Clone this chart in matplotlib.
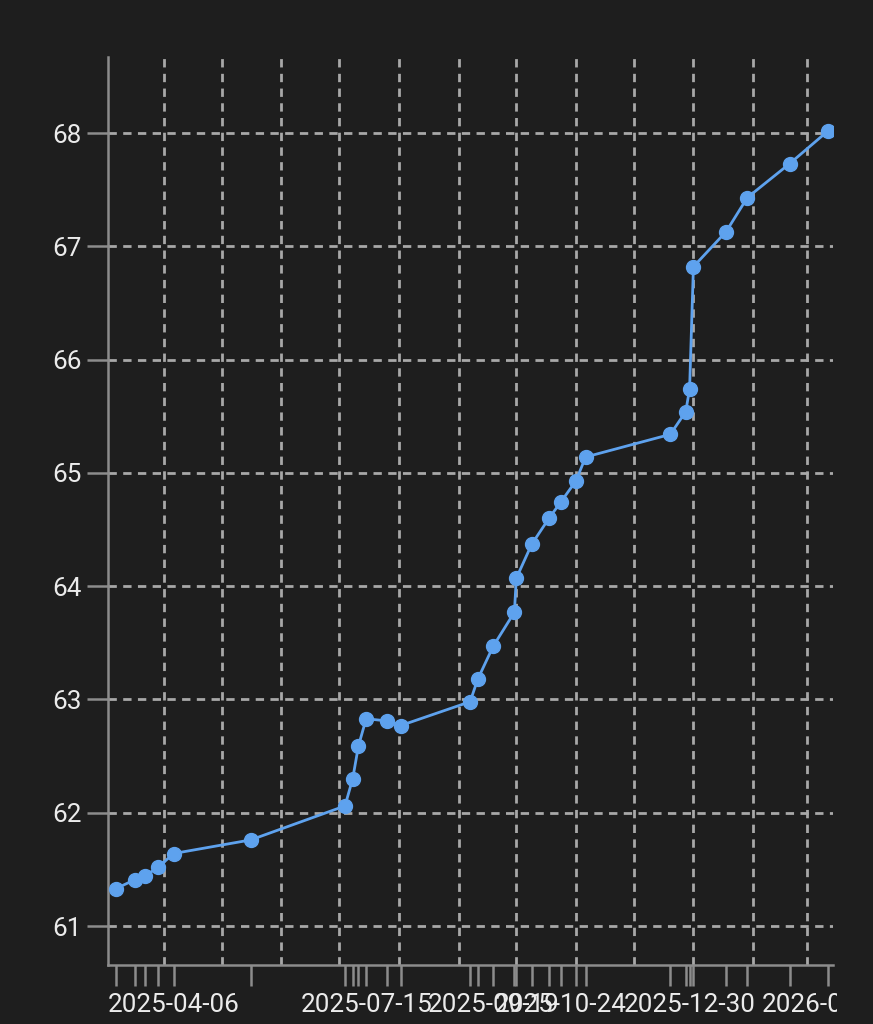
import matplotlib
matplotlib.use("Agg")
import matplotlib.pyplot as plt
import matplotlib.dates as mdates
from matplotlib.transforms import Bbox
import numpy as np
import pandas as pd

dates = ["2025-03-07", "2025-03-17", "2025-03-22", "2025-03-29", "2025-04-06",
         "2025-05-16", "2025-07-04", "2025-07-08", "2025-07-11", "2025-07-15",
         "2025-07-26", "2025-08-02", "2025-09-07", "2025-09-11", "2025-09-19",
         "2025-09-30", "2025-10-01", "2025-10-09", "2025-10-18", "2025-10-24",
         "2025-11-01", "2025-11-06", "2025-12-20", "2025-12-28", "2025-12-30",
         "2026-01-01", "2026-01-18", "2026-01-29", "2026-02-20", "2026-03-12"]
values = [61.33, 61.41, 61.44, 61.52, 61.64,
          61.76, 62.06, 62.30, 62.59, 62.83,
          62.81, 62.77, 62.98, 63.18, 63.47,
          63.77, 64.07, 64.37, 64.60, 64.74,
          64.93, 65.14, 65.34, 65.54, 65.74,
          66.82, 67.13, 67.43, 67.73, 68.02]
y_ticks = [61, 62, 63, 64, 65, 66, 67, 68]

BG = "#1e1e1e"
GRID = "#a8a8a8"
SPINE = "#8c8c8c"
TEXT = "#ebebeb"
LINE = "#5ea2ee"

plt.rcParams['font.family'] = ['Roboto', 'DejaVu Sans']

x = pd.to_datetime(dates)
fig = plt.figure(figsize=(8.73, 10.24), dpi=100, facecolor=BG)
ax = fig.add_axes([108/873, 1-965/1024, (833-108)/873, (965-57)/1024])
ax.set_facecolor(BG)

ax.plot(x, values, color=LINE, lw=2.0, marker='o', markersize=10,
        markerfacecolor=LINE, markeredgecolor=LINE, zorder=3)

x0 = pd.Timestamp("2025-04-06")
ax.set_xlim(mdates.date2num(x0 - pd.Timedelta(days=34.1)),
            mdates.date2num(x0 + pd.Timedelta(days=342.5)))
ax.set_ylim(60.656, 68.671)

ax.set_yticks(y_ticks)
ax.set_yticklabels([str(v) for v in y_ticks])

ax.set_xticks(mdates.date2num(x))
ax.set_xticklabels([d if i % 5 == 4 else "" for i, d in enumerate(dates)])
ax.xaxis.set_minor_locator(mdates.MonthLocator())
ax.xaxis.remove_overlapping_locs = False

ax.tick_params(axis='both', which='major', colors=SPINE, labelcolor=TEXT,
               labelsize=18.7, length=15, width=1.8)
ax.tick_params(axis='y', pad=4)
ax.tick_params(axis='x', pad=5)
ax.tick_params(axis='x', which='minor', length=0)

dash = (0, (3, 2.3))
ax.grid(True, axis='y', which='major', color=GRID, lw=2.0, linestyle=dash)
ax.grid(True, axis='x', which='minor', color=GRID, lw=2.0, linestyle=dash)
ax.grid(False, axis='x', which='major')
ax.set_axisbelow(True)

for s in ['top', 'right']:
    ax.spines[s].set_visible(False)
for s in ['left', 'bottom']:
    ax.spines[s].set_color(SPINE)
    ax.spines[s].set_linewidth(1.8)

clip = Bbox.from_extents(0, 0, 837, 1024)
for lab in ax.get_xticklabels():
    lab.set_clip_box(clip)
    lab.set_clip_on(True)

fig.savefig("out.png", dpi=100, facecolor=BG)
